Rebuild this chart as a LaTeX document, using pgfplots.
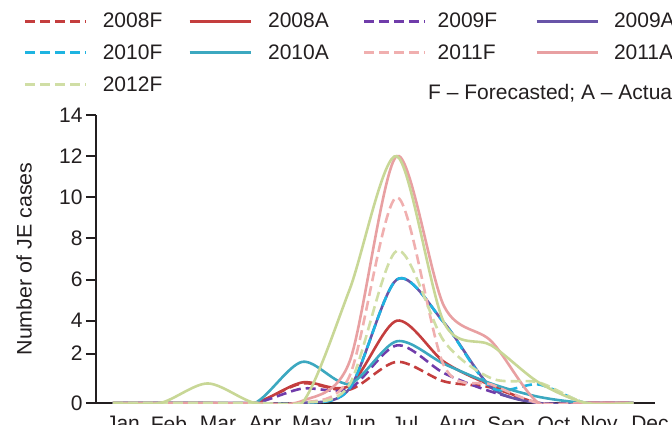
\documentclass[border=0pt]{standalone}
\usepackage{fontspec}
\setmainfont{Liberation Sans}
\usepackage{pgfplots}
\pgfplotsset{compat=1.18}
\definecolor{axc}{RGB}{35,31,32}
\definecolor{c08}{RGB}{196,62,62}
\definecolor{c09f}{RGB}{112,60,170}
\definecolor{c09a}{RGB}{104,84,168}
\definecolor{c10f}{RGB}{30,180,225}
\definecolor{c10a}{RGB}{60,168,192}
\definecolor{c11f}{RGB}{240,175,175}
\definecolor{c11a}{RGB}{232,160,162}
\definecolor{c12f}{RGB}{208,222,165}
\definecolor{c12a}{RGB}{200,215,150}
\newcommand{\fs}{\fontsize{21}{25}\selectfont}
\tikzset{fd/.style={dash pattern=on 10pt off 5pt}}
\begin{document}
\begin{tikzpicture}[font=\fs, text=axc]
\path[use as bounding box] (0pt,0pt) rectangle (672pt,424pt);
\clip (0pt,0pt) rectangle (672pt,424pt);
\begin{axis}[
  at={(96pt,21pt)}, anchor=south west,
  scale only axis, width=559pt, height=288pt,
  xmin=0.641, xmax=12.459, ymin=0, ymax=14,
  axis lines=left, axis line style={-, line width=2pt, draw=axc},
  xtick={1.211,2.184,3.220,4.214,5.207,6.201,7.173,8.273,9.309,10.323,11.275,12.353},
  xticklabels={Jan,Feb,Mar,Apr,May,Jun,Jul,Aug,Sep,Oct,Nov,Dec},
  x tick style={draw=none},
  ytick={0,2.4,4,6,8,10,12,14},
  yticklabels={0,2,4,6,8,10,12,14},
  y tick style={line width=2pt, draw=axc},
  tick align=outside, major tick length=10pt,
  tick label style={font=\fs, text=axc},
  /pgf/number format/assume math mode=true,
  every axis y label/.style={at={(axis description cs:-0.1288,0.5)}, rotate=90, anchor=center, font=\fs, text=axc},
  ylabel={\scalebox{1.02}[1]{Number of JE cases}},
  every axis plot/.append style={line width=2.6pt, smooth},
  legend columns=4,
  legend cell align=left,
  legend image code/.code={\draw[#1, line width=2.8pt] (0pt,0pt) -- (61pt,0pt);},
  legend style={at={(axis description cs:-0.1288,1.354)}, anchor=north west,
    draw=none, fill=none, inner sep=0pt, outer sep=0pt, font=\fs, row sep=15.5pt,
    nodes={inner sep=0pt},
    /tikz/column 1/.style={column sep=15pt},
    /tikz/column 2/.style={column sep=26pt},
    /tikz/column 3/.style={column sep=16pt},
    /tikz/column 4/.style={column sep=34pt},
    /tikz/column 5/.style={column sep=11pt},
    /tikz/column 6/.style={column sep=38pt},
    /tikz/column 7/.style={column sep=15pt}},
]
% 2008F
\addplot[c08, fd] coordinates {(1,0) (2,0) (3,0) (4,0) (5,0.95) (6,0.65) (7,2.0) (8,1.05) (9,0.75) (10,0) (11,0) (12,0)};
\addlegendentry{2008F}
% 2008A
\addplot[c08] coordinates {(1,0) (2,0) (3,0) (4,0) (5,1.0) (6,0.85) (7,4.0) (8,2.0) (9,0.85) (10,0) (11,0) (12,0)};
\addlegendentry{2008A}
% 2009F
\addplot[c09f, fd] coordinates {(1,0) (2,0) (3,0) (4,0) (5,0.7) (6,0.7) (7,2.8) (8,1.45) (9,0.55) (10,0) (11,0) (12,0)};
\addlegendentry{2009F}
% 2009A
\addplot[c09a] coordinates {(1,0) (2,0) (3,0) (4,0) (5,0) (6,0.7) (7,6.0) (8,3.9) (9,0.75) (10,0) (11,0) (12,0)};
\addlegendentry{2009A}
% 2010F
\addplot[c10f, fd] coordinates {(1,0) (2,0) (3,0) (4,0) (5,0) (6,0.7) (7,6.0) (8,3.9) (9,0.75) (10,0.9) (11,0) (12,0)};
\addlegendentry{2010F}
% 2010A
\addplot[c10a] coordinates {(1,0) (2,0) (3,0) (4,0) (5,2.0) (6,0.94) (7,3.0) (8,1.9) (9,0.94) (10,0.3) (11,0) (12,0)};
\addlegendentry{2010A}
% 2011F
\addplot[c11f, fd] coordinates {(1,0) (2,0) (3,0) (4,0) (5,0) (6,1.3) (7,10.0) (8,1.8) (9,0.9) (10,0) (11,0) (12,0)};
\addlegendentry{2011F}
% 2011A
\addplot[c11a] coordinates {(1,0) (2,0) (3,0) (4,0) (5,0.1) (6,2.0) (7,12.0) (8,4.7) (9,3.0) (10,0) (11,0) (12,0)};
\addlegendentry{2011A}
% 2012F
\addplot[c12f, fd] coordinates {(1,0) (2,0) (3,0) (4,0) (5,0) (6,0.9) (7,7.4) (8,3.0) (9,1.2) (10,1.0) (11,0) (12,0)};
\addlegendentry{2012F}
% 2012 (solid, not in legend)
\addplot[c12a] coordinates {(1,0) (2,0) (3,0.95) (4,0) (5,0) (6,5.5) (7,12.0) (8,3.9) (9,2.8) (10,1.0) (11,0) (12,0)};
\end{axis}
\node[anchor=base west, inner sep=0pt, font=\fs, text=axc] at (428pt,324pt) {F – Forecasted; A – Actual};
\end{tikzpicture}
\end{document}
